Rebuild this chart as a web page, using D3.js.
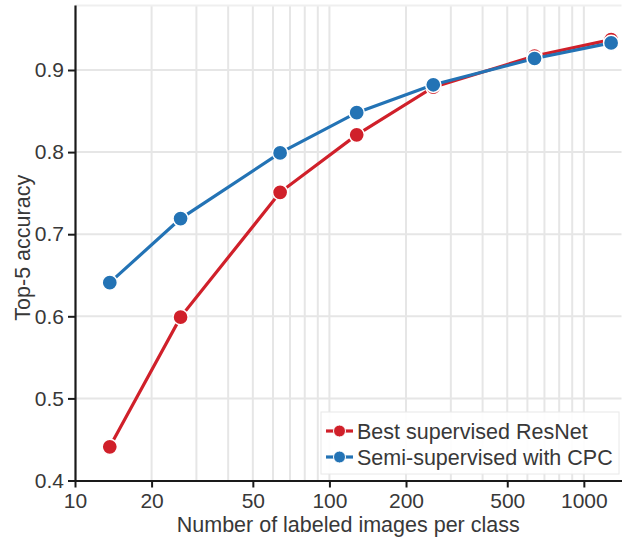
<!DOCTYPE html>
<html>
<head>
<meta charset="utf-8">
<script src="https://cdn.jsdelivr.net/npm/d3@7"></script>
<style>
  html, body { margin: 0; padding: 0; background: #fff; }
  svg { display: block; }
  text { font-family: "Liberation Sans", Arial, Helvetica, sans-serif; }
</style>
</head>
<body>
<svg id="chart" width="622" height="538"></svg>
<script>
// ---- data ----
const imagesPerClass = [13.7, 26, 64, 128, 256, 640, 1280];
const supervised = [0.441, 0.599, 0.751, 0.821, 0.879, 0.917, 0.937];
const semiCPC = [0.641, 0.719, 0.799, 0.848, 0.882, 0.914, 0.933];
const seriesNames = ["Best supervised ResNet", "Semi-supervised with CPC"];
const xTickValues = [10, 20, 50, 100, 200, 500, 1000];
const yTickValues = [0.4, 0.5, 0.6, 0.7, 0.8, 0.9];

// ---- layout ----
const svg = d3.select("#chart");
const mLeft = 75, mRight = 621.5, mTop = 5, mBottom = 480.5;
const colors = ["#d0202a", "#2373b5"];
const textColor = "#383838";

const x = d3.scaleLog().domain([10, 1406]).range([mLeft, mRight]);
const y = d3.scaleLinear().domain([0.4, 0.9 + (70 - mTop) / 82.1 / 10]).range([mBottom, mTop]);

// grid
const grid = svg.append("g").attr("stroke", "#e6e6e6").attr("stroke-width", 2);
const minor = [];
for (let d = 10; d <= 1000; d *= 10) for (let k = 2; k <= 10; k++) { const v = d * k; if (v <= 1406) minor.push(v); }
grid.selectAll("line.v").data(minor).join("line")
  .attr("x1", d => x(d)).attr("x2", d => x(d)).attr("y1", mTop).attr("y2", mBottom);
grid.selectAll("line.h").data(yTickValues.slice(1)).join("line")
  .attr("x1", mLeft).attr("x2", mRight).attr("y1", d => y(d)).attr("y2", d => y(d));
grid.append("line").attr("x1", mLeft).attr("x2", mRight).attr("y1", mTop + 0.5).attr("y2", mTop + 0.5)
  .attr("stroke", "#efefef");

// axes
const xAxis = d3.axisBottom(x).tickValues(xTickValues).tickFormat(d3.format("d")).tickSize(7).tickSizeOuter(0);
const yAxis = d3.axisLeft(y).tickValues(yTickValues).tickFormat(d3.format(".1f")).tickSize(7).tickSizeOuter(0);

const gx = svg.append("g").attr("transform", `translate(0,${mBottom})`).call(xAxis);
const gy = svg.append("g").attr("transform", `translate(${mLeft},0)`).call(yAxis);
[gx, gy].forEach(g => {
  g.select(".domain").attr("stroke", "#1a1a1a").attr("stroke-width", 2.2);
  g.selectAll(".tick line").attr("stroke", "#1a1a1a").attr("stroke-width", 2);
  g.selectAll(".tick text").attr("fill", textColor).attr("font-size", 21)
    .attr("font-family", "Liberation Sans, Arial, sans-serif");
});
gx.selectAll(".tick text").attr("dy", "0.85em");
gy.selectAll(".tick text").attr("dx", "-0.05em");

// axis titles
svg.append("text").attr("x", (mLeft + mRight) / 2).attr("y", 532)
  .attr("text-anchor", "middle").attr("font-size", 21.5).attr("fill", textColor)
  .text("Number of labeled images per class");
svg.append("text").attr("transform", `translate(30,${(mTop + mBottom) / 2 + 5}) rotate(-90)`)
  .attr("text-anchor", "middle").attr("font-size", 21.5).attr("fill", textColor)
  .text("Top-5 accuracy");

// series
const seriesData = [supervised, semiCPC];
const line = d3.line().x(d => x(d[0])).y(d => y(d[1]));
seriesData.forEach((vals, i) => {
  const pts = imagesPerClass.map((v, j) => [v, vals[j]]);
  svg.append("path").datum(pts).attr("d", line)
    .attr("fill", "none").attr("stroke", colors[i]).attr("stroke-width", 3.2);
  svg.append("g").selectAll("circle").data(pts).join("circle")
    .attr("cx", d => x(d[0])).attr("cy", d => y(d[1])).attr("r", 7.6)
    .attr("fill", colors[i]).attr("stroke", "#fff").attr("stroke-width", 1.5);
});

// legend
const lg = svg.append("g");
lg.append("rect").attr("x", 321).attr("y", 412).attr("width", 298).attr("height", 62)
  .attr("fill", "#fff").attr("fill-opacity", 0.9).attr("stroke", "#e8e8e8").attr("stroke-width", 1);
seriesNames.forEach((name, i) => {
  const yy = 431 + i * 26;
  lg.append("line").attr("x1", 326).attr("x2", 353).attr("y1", yy).attr("y2", yy)
    .attr("stroke", colors[i]).attr("stroke-width", 3.2);
  lg.append("circle").attr("cx", 339.5).attr("cy", yy).attr("r", 6)
    .attr("fill", colors[i]).attr("stroke", "#fff").attr("stroke-width", 1);
  lg.append("text").attr("x", 357).attr("y", yy).attr("dy", "0.36em")
    .attr("font-size", 21.5).attr("fill", textColor).text(name);
});
</script>
</body>
</html>
